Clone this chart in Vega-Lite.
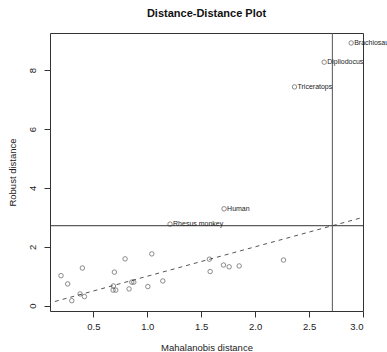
{
  "$schema": "https://vega.github.io/schema/vega-lite/v6.json",
  "width": 313,
  "height": 278,
  "autosize": {"type": "none"},
  "padding": {"left": 50, "top": 33, "right": 24, "bottom": 41},
  "config": {
    "font": "Liberation Sans",
    "view": {"stroke": "#333", "strokeWidth": 1},
    "axis": {"grid": false, "domain": false, "tickColor": "#333", "labelColor": "#222", "titleColor": "#222", "labelFontSize": 9.5, "titleFontSize": 9.5, "titleFontWeight": "normal", "tickSize": 6}
  },
  "title": {"text": "Distance-Distance Plot", "fontSize": 11, "fontWeight": "bold", "color": "#111", "anchor": "middle", "offset": 14},
  "datasets": {
    "pts": [
      {"md": 2.89, "rd": 8.92, "label": "Brachiosaurus"},
      {"md": 2.64, "rd": 8.27, "label": "Dipliodocus"},
      {"md": 2.365, "rd": 7.43, "label": "Triceratops"},
      {"md": 1.712, "rd": 3.29, "label": "Human"},
      {"md": 1.211, "rd": 2.77, "label": "Rhesus monkey"},
      {"md": 0.200, "rd": 1.02, "label": ""},
      {"md": 0.262, "rd": 0.74, "label": ""},
      {"md": 0.300, "rd": 0.17, "label": ""},
      {"md": 0.377, "rd": 0.40, "label": ""},
      {"md": 0.417, "rd": 0.31, "label": ""},
      {"md": 0.398, "rd": 1.28, "label": ""},
      {"md": 0.695, "rd": 1.14, "label": ""},
      {"md": 0.686, "rd": 0.67, "label": ""},
      {"md": 0.683, "rd": 0.53, "label": ""},
      {"md": 0.708, "rd": 0.53, "label": ""},
      {"md": 0.794, "rd": 1.59, "label": ""},
      {"md": 0.856, "rd": 0.80, "label": ""},
      {"md": 0.875, "rd": 0.80, "label": ""},
      {"md": 0.831, "rd": 0.57, "label": ""},
      {"md": 1.005, "rd": 0.65, "label": ""},
      {"md": 1.042, "rd": 1.76, "label": ""},
      {"md": 1.144, "rd": 0.84, "label": ""},
      {"md": 1.576, "rd": 1.58, "label": ""},
      {"md": 1.583, "rd": 1.16, "label": ""},
      {"md": 1.706, "rd": 1.38, "label": ""},
      {"md": 1.759, "rd": 1.32, "label": ""},
      {"md": 1.852, "rd": 1.35, "label": ""},
      {"md": 2.263, "rd": 1.55, "label": ""}
    ],
    "diag": [{"md": 0, "rd": 0}, {"md": 3.2, "rd": 3.2}],
    "cut": [{"cutoff": 2.716}]
  },
  "layer": [
    {
      "data": {"name": "diag"},
      "mark": {"type": "line", "clip": true, "color": "#555", "strokeWidth": 1, "strokeDash": [4, 4]},
      "encoding": {
        "x": {"field": "md", "type": "quantitative", "scale": {"domain": [0.098, 3.0], "nice": false, "zero": false},
              "axis": {"title": "Mahalanobis distance", "values": [0.5, 1.0, 1.5, 2.0, 2.5, 3.0], "format": ".1f", "labelPadding": 4, "titlePadding": 12}},
        "y": {"field": "rd", "type": "quantitative", "scale": {"domain": [-0.18, 9.26], "nice": false, "zero": false},
              "axis": {"title": "Robust distance", "values": [0, 2, 4, 6, 8], "labelAngle": 270, "labelAlign": "center", "labelBaseline": "bottom", "labelPadding": 7, "titlePadding": 10}}
      }
    },
    {
      "data": {"name": "cut"},
      "mark": {"type": "rule", "color": "#333", "strokeWidth": 1},
      "encoding": {"y": {"field": "cutoff", "type": "quantitative"}}
    },
    {
      "data": {"name": "cut"},
      "mark": {"type": "rule", "color": "#555", "strokeWidth": 1},
      "encoding": {"x": {"field": "cutoff", "type": "quantitative"}}
    },
    {
      "data": {"name": "pts"},
      "mark": {"type": "point", "shape": "circle", "filled": false, "size": 20, "color": "#333", "strokeWidth": 0.8},
      "encoding": {
        "x": {"field": "md", "type": "quantitative"},
        "y": {"field": "rd", "type": "quantitative"}
      }
    },
    {
      "data": {"name": "pts"},
      "transform": [{"filter": "datum.label != ''"}],
      "mark": {"type": "text", "align": "left", "baseline": "middle", "dx": 3, "fontSize": 7, "color": "#222"},
      "encoding": {
        "x": {"field": "md", "type": "quantitative"},
        "y": {"field": "rd", "type": "quantitative"},
        "text": {"field": "label"}
      }
    }
  ]
}
